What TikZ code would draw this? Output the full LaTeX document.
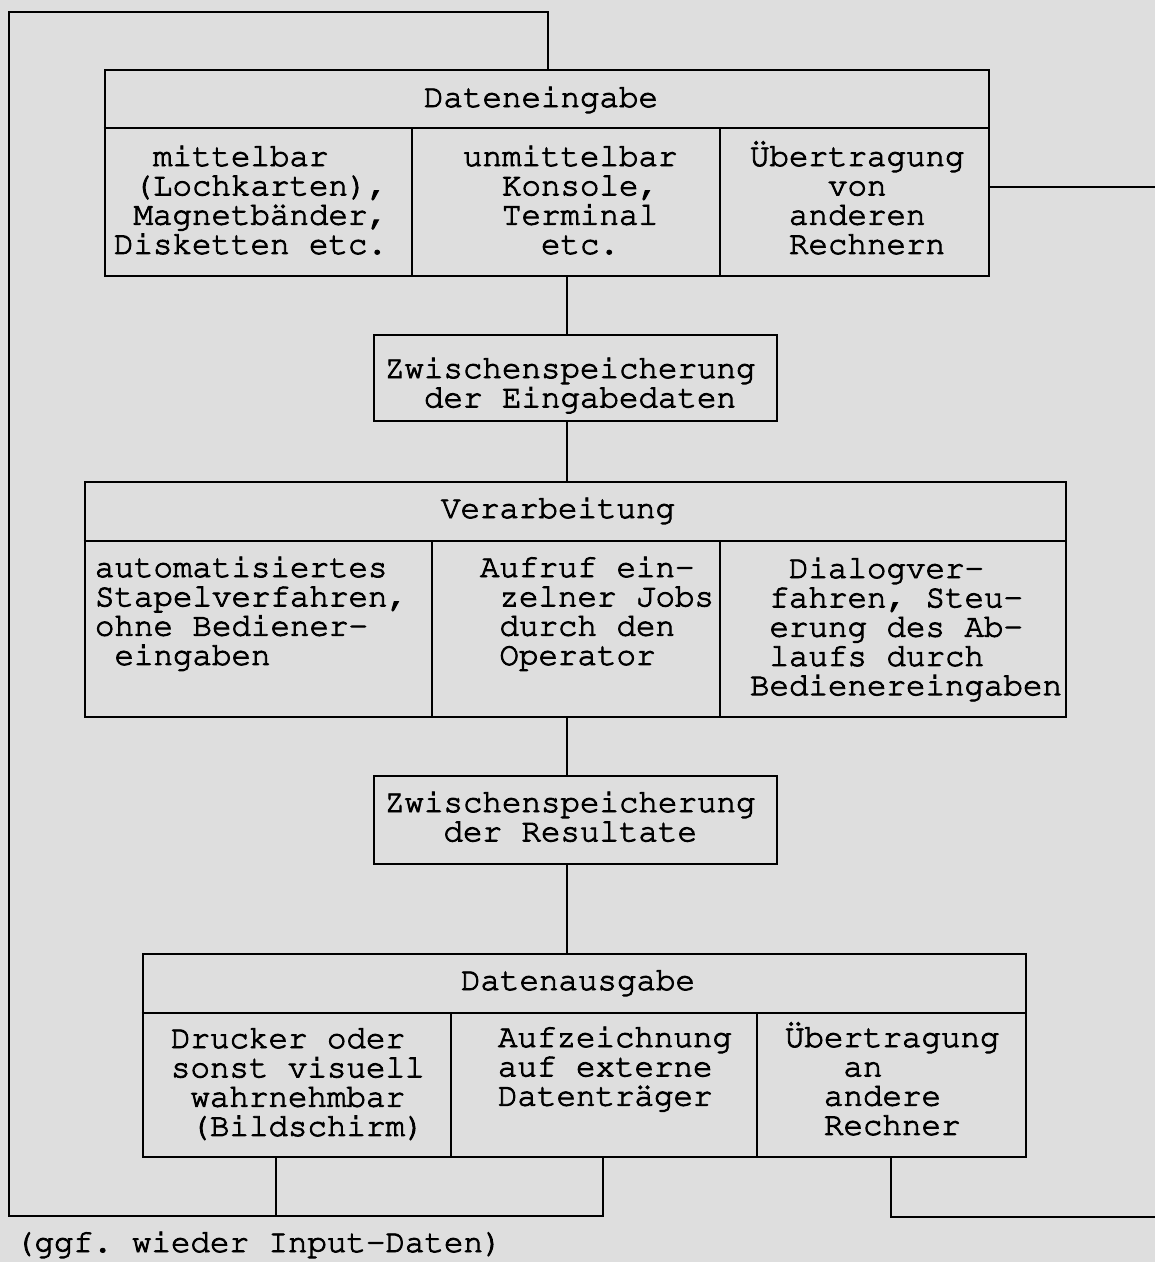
\documentclass[tikz,border=0pt]{standalone}
\usepackage[T1,TU]{fontenc}
\frenchspacing
\newcommand\tw{\fontencoding{T1}\fontfamily{pcr}\fontseries{m}\fontshape{n}\fontsize{32.5}{29.3}\selectfont\frenchspacing}
\newlength\cw
\setlength\cw{19.5pt}
\newcommand\ind[1]{\hskip#1\cw\relax}
\newcommand\ml[1]{\special{pdf:literal direct 2 Tr 0.9 w}\vtop{\tw\baselineskip=29.3pt\lineskip=0pt\lineskiplimit=-50pt\halign{##\hfil\cr#1\crcr}}}
\definecolor{bgc}{gray}{0.87}
\begin{document}
\begin{tikzpicture}[x=1pt,y=-1pt,
  ln/.style={line width=2.6pt},
  box/.style={draw, line width=2.6pt, rectangle, inner sep=0pt},
  txt/.style={anchor=base west, inner sep=0pt, outer sep=0pt, font=\tw},
]
\fill[bgc] (0,0) rectangle (1155,1262);
\useasboundingbox (0,0) rectangle (1155,1262);

% boxes
\node[box, minimum width=884, minimum height=206] (ein) at (547,173) {};
\node[box, minimum width=403, minimum height=86] (zw1) at (575.5,378) {};
\node[box, minimum width=981, minimum height=235] (ver) at (575.5,599.5) {};
\node[box, minimum width=403, minimum height=88] (zw2) at (575.5,820) {};
\node[box, minimum width=883, minimum height=203] (aus) at (584.5,1055.5) {};

% inner dividers
\draw[ln] (ein.west |- 0,128) -- (ein.east |- 0,128);
\draw[ln] (412,128) -- (ein.south -| 412,0);
\draw[ln] (720,128) -- (ein.south -| 720,0);
\draw[ln] (ver.west |- 0,541) -- (ver.east |- 0,541);
\draw[ln] (432,541) -- (ver.south -| 432,0);
\draw[ln] (720,541) -- (ver.south -| 720,0);
\draw[ln] (aus.west |- 0,1013) -- (aus.east |- 0,1013);
\draw[ln] (451,1013) -- (aus.south -| 451,0);
\draw[ln] (757,1013) -- (aus.south -| 757,0);

% connectors
\coordinate (sp) at (567,0);
\draw[ln] (ein.south -| sp) -- (zw1.north -| sp);
\draw[ln] (zw1.south -| sp) -- (ver.north -| sp);
\draw[ln] (ver.south -| sp) -- (zw2.north -| sp);
\draw[ln] (zw2.south -| sp) -- (aus.north -| sp);

\coordinate (bl) at (9,1216);
\coordinate (tl) at (9,12);
\coordinate (d1) at (276,0);
\coordinate (d2) at (603,0);
\coordinate (et) at (548,0);
\coordinate (d3) at (891,0);
\coordinate (rb) at (1156,1217);
\coordinate (rt) at (1156,187);
\draw[ln] (aus.south -| d1) -- (d1 |- bl);
\draw[ln] (aus.south -| d2) |- (bl) -- (tl) -| (ein.north -| et);
\draw[ln] (aus.south -| d3) |- (rb);
\draw[ln] (ein.east |- rt) -- (rt);

% texts
\node[txt] (t0) at (424,107) {\ml{Dateneingabe}};
\node[txt] (t1) at (114,166) {\ml{\ind{2}mittelbar\cr\ind{1}(Lochkarten),\cr\ind{1}Magnetb\"ander,\cr Disketten etc.}};
\node[txt] (t2) at (463,166) {\ml{unmittelbar\cr\ind{2}Konsole,\cr\ind{2}Terminal\cr\ind{4}etc.}};
\node[txt] (t3) at (750,166) {\ml{\"Ubertragung\cr\ind{4}von\cr\ind{2}anderen\cr\ind{2}Rechnern}};

\node[txt] (t4) at (385,378) {\ml{Zwischenspeicherung\cr\ind{2}der Eingabedaten}};

\node[txt] (t5) at (441,518) {\ml{Verarbeitung}};
\node[txt] (t6) at (95,577) {\ml{automatisiertes\cr Stapelverfahren,\cr ohne Bediener-\cr\ind{1}eingaben}};
\node[txt] (t7) at (480,577) {\ml{Aufruf ein-\cr\ind{1}zelner Jobs\cr\ind{1}durch den\cr\ind{1}Operator}};
\node[txt] (t8) at (750,578) {\ml{\ind{2}Dialogver-\cr\ind{1}fahren, Steu-\cr\ind{1}erung des Ab-\cr\ind{1}laufs durch\cr Bedienereingaben}};

\node[txt] (t9) at (385,812) {\ml{Zwischenspeicherung\cr\ind{3}der Resultate}};

\node[txt] (t10) at (461,990) {\ml{Datenausgabe}};
\node[txt] (t11) at (171,1048) {\ml{Drucker oder\cr sonst visuell\cr\ind{1}wahrnehmbar\cr\ind{1}(Bildschirm)}};
\node[txt] (t12) at (498,1047) {\ml{Aufzeichnung\cr auf externe\cr Datentr\"ager}};
\node[txt] (t13) at (785,1047) {\ml{\"Ubertragung\cr\ind{3}an\cr\ind{2}andere\cr\ind{2}Rechner}};

\node[txt] (t14) at (15,1252) {\ml{(ggf. wieder Input-Daten)}};
\end{tikzpicture}
\end{document}
